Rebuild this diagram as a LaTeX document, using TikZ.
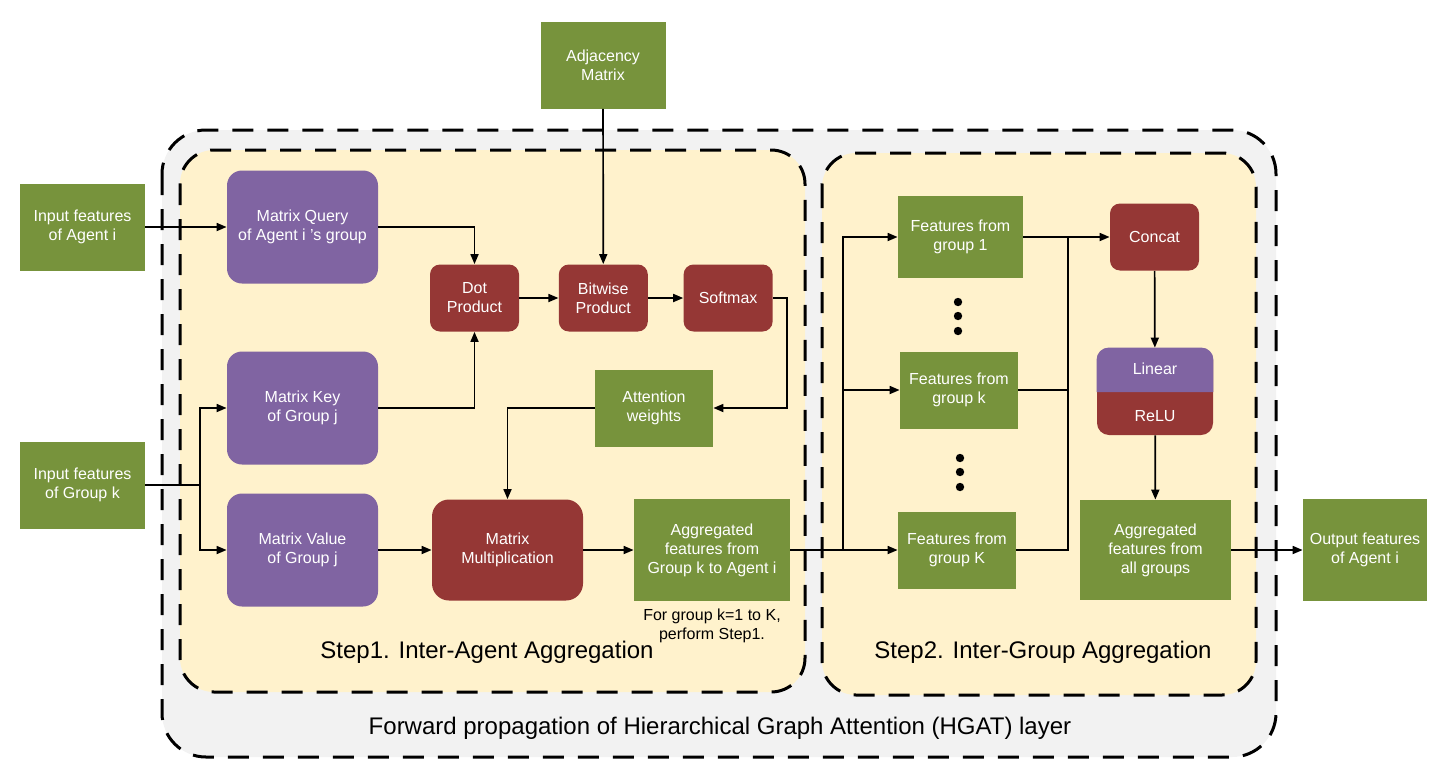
\documentclass[tikz,border=0pt]{standalone}
\usepackage{fontspec}
\setmainfont{Liberation Sans}
\usetikzlibrary{arrows.meta, positioning, backgrounds}

\definecolor{featgreen}{RGB}{119,147,60}
\definecolor{projpurple}{RGB}{128,100,162}
\definecolor{operred}{RGB}{149,55,53}
\definecolor{stepyellow}{RGB}{255,242,204}
\definecolor{layergray}{RGB}{242,242,242}

\begin{document}
\begin{tikzpicture}[
    x=0.5pt, y=-0.5pt,
    feat/.style={rectangle, fill=featgreen, text=white, align=center, inner sep=1pt, minimum width=62.5pt, minimum height=43.5pt, font=\fontsize{8}{9.5}\selectfont},
    proj/.style={rectangle, rounded corners=7.5pt, fill=projpurple, text=white, align=center, inner sep=1pt, minimum width=75.5pt, minimum height=56.5pt, font=\fontsize{8}{9.5}\selectfont},
    oper/.style={rectangle, rounded corners=5pt, fill=operred, text=white, align=center, inner sep=1pt, minimum width=44.5pt, minimum height=33.5pt, font=\fontsize{8}{9.5}\selectfont},
    arrow/.style={-{Triangle[length=5pt, width=4pt]}, line width=0.85pt},
    link/.style={line width=0.85pt},
    frame/.style={draw, line width=1.5pt, dash pattern=on 10.5pt off 7pt},
    title/.style={font=\fontsize{12}{14}\selectfont},
    note/.style={align=center, font=\fontsize{8}{9.5}\selectfont}
]
\useasboundingbox (0,0) rectangle (1444,771);

% Inputs
\node[feat] (inA) at (82.5,227) {Input features\\of Agent i};
\node[feat] (inG) at (82.5,485) {Input features\\of Group k};
\node[feat] (adj) at (603,65) {Adjacency\\Matrix};

% Step1 - projections
\node[proj] (query) at (302.5,227) {Matrix Query\\of Agent i 's group};
\node[proj] (key) at (302.5,408) {Matrix Key\\of Group j};
\node[proj] (value) at (302.5,550) {Matrix Value\\of Group j};

% Step1 - attention
\node[oper] (dot) at (474.5,298) {Dot\\Product};
\node[oper, right=19.5pt of dot] (bitwise) {Bitwise\\Product};
\node[oper, right=17.5pt of bitwise] (softmax) {Softmax};
\node[feat, minimum width=59pt, minimum height=38.5pt] (attn) at (654,408) {Attention\\weights};
\node[oper, rounded corners=8.5pt, minimum width=75.5pt, minimum height=50.5pt] (matmul) at (507.5,550) {Matrix\\Multiplication};
\node[feat, minimum width=78pt, minimum height=51pt] (agg) at (712,550) {Aggregated\\features from\\Group k to Agent i};
\node[note, below=0pt of agg] (repeat) {For group k=1 to K,\\perform Step1.};

% Step2 - groups
\node[feat, minimum height=41pt] (f1) at (960.5,237) {Features from\\group 1};
\node[feat, minimum width=59pt, minimum height=38.5pt] (fk) at (959,390) {Features from\\group k};
\node[feat, minimum width=59pt, minimum height=38.5pt] (fK) at (957,550) {Features from\\group K};
\foreach \y in {302,316,331} \fill (958,\y) circle (2.1pt);
\foreach \y in {458,472,487} \fill (960,\y) circle (2.1pt);

% Step2 - merge
\node[oper] (concat) at (1154.5,237) {Concat};
\node[oper, rounded corners=6pt, minimum width=58pt, minimum height=43.5pt] (act) at (1155,391.5) {};
\fill[projpurple] (act.west |- 0,392) [rounded corners=6pt] -- (act.north west) -- (act.north east) [sharp corners] -- (act.east |- 0,392) -- cycle;
\node[text=white, font=\fontsize{8}{9.5}\selectfont] (linear) at (1155,369) {Linear};
\node[text=white, font=\fontsize{8}{9.5}\selectfont] (relu) at (1155,416) {ReLU};
\node[feat, minimum width=75.5pt, minimum height=50pt] (aggall) at (1155.5,550) {Aggregated\\features from\\all groups};
\node[feat, minimum width=62pt, minimum height=51pt] (out) at (1365,550) {Output features\\of Agent i};

% Arrows - Step1
\draw[arrow] (inA) -- (query);
\draw[arrow] (query.east) -| (dot.north);
\draw[arrow] (key.east) -| (dot.south);
\draw[arrow] (dot) -- (bitwise);
\draw[arrow] (bitwise) -- (softmax);
\draw[arrow] (adj) -- (bitwise);
\draw[arrow] (softmax.east) -- ++(14,0) |- (attn.east);
\draw[arrow] (attn.west) -| (matmul.north);
\coordinate (splitG) at (200,485);
\draw[link] (inG.east) -- (splitG);
\draw[arrow] (splitG) |- (key.west);
\draw[arrow] (splitG) |- (value.west);
\draw[arrow] (value) -- (matmul);
\draw[arrow] (matmul) -- (agg);

% Arrows - Step2
\coordinate (splitF) at (843,550);
\draw[link] (agg.east) -- (splitF);
\draw[arrow] (splitF) |- (f1.west);
\draw[arrow] (splitF) |- (fk.west);
\draw[arrow] (splitF) -- (fK.west);
\coordinate (joinF) at (1068,237);
\draw[link] (fk.east) -| (joinF);
\draw[link] (fK.east) -| (joinF);
\draw[arrow] (f1.east) -- (concat.west);
\draw[arrow] (concat) -- (act);
\draw[arrow] (act) -- (aggall);
\draw[arrow] (aggall) -- (out);

% Background frames
\begin{scope}[on background layer]
\draw[frame, fill=layergray, rounded corners=22pt] (162,130) rectangle (1276,757);
\draw[frame, fill=stepyellow, rounded corners=17pt] (180,150) rectangle (805,692);
\draw[frame, fill=stepyellow, rounded corners=17pt] (822,153) rectangle (1256,695);
\end{scope}
\node[title] (step1) at (487,652) {Step1. Inter-Agent Aggregation};
\node[title] (step2) at (1043,652) {Step2. Inter-Group Aggregation};
\node[title] (layer) at (720,728) {Forward propagation of Hierarchical Graph Attention (HGAT) layer};

\end{tikzpicture}
\end{document}
